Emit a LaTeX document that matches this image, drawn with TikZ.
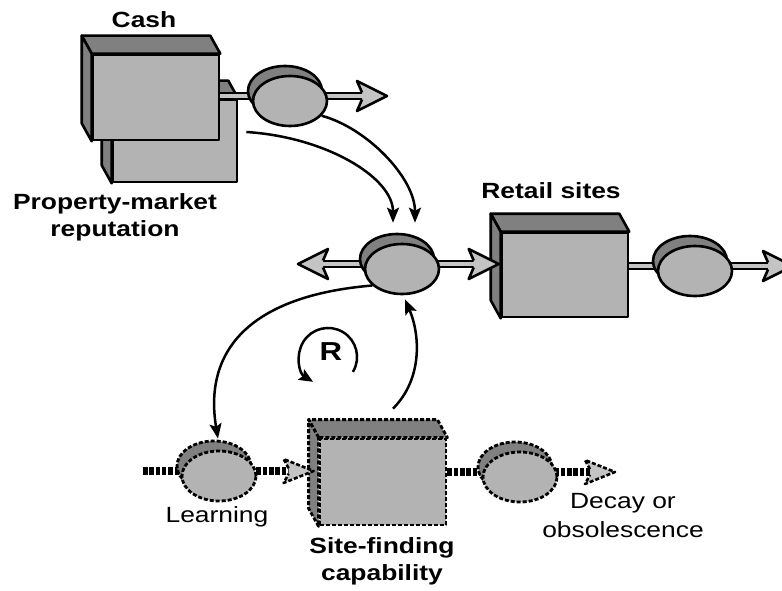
\documentclass[tikz,border=0pt]{standalone}
\usepackage{fontspec}
\setmainfont{Liberation Sans}[FakeStretch=1.2]
\usetikzlibrary{calc,arrows.meta,shapes.geometric}
\definecolor{facegray}{HTML}{B3B3B3}
\definecolor{sidegray}{HTML}{808080}
\definecolor{pipegray}{HTML}{C4C4C4}

% top and left faces of a 3-D stock box drawn from its front-face node
\newcommand\stockfaces[2]{%
  \path[sideface,#2] (#1.north west) -- ++(-10,-18) -- ($(#1.north east)+(-10,-18)$) -- (#1.north east) -- cycle;
  \path[sideface,#2] (#1.north west) -- ++(-10,-18) -- ($(#1.south west)+(-10,-18)$) -- (#1.south west) -- cycle;
}
% valve: rim behind, face in front, centred just below the pipe
\newcommand\valveat[3]{%
  \path[coinback,#3] ($(#2)+(-5,-5)$) ellipse [x radius=37, y radius=25];
  \node[coinfront,#3] (#1) at ($(#2)+(0,5)$) {};
}

\begin{document}
\begin{tikzpicture}[x=1pt,y=-1pt,
  outline/.style={line width=2.6pt, line join=round},
  front/.style={outline, draw, fill=facegray, rectangle, inner sep=0pt},
  sideface/.style={outline, draw, fill=sidegray},
  dashy/.style={line width=2.8pt, dash pattern=on 4pt off 2pt},
  coinfront/.style={ellipse, draw, outline, fill=facegray, minimum width=74pt, minimum height=50pt, inner sep=0pt},
  coinback/.style={outline, draw, fill=sidegray},
  pipe/.style={line width=2.2pt, double=pipegray, double distance=3.8pt},
  dpipe/.style={line width=7.5pt, dash pattern=on 4.5pt off 1.8pt},
  link/.style={line width=2.5pt, -{Stealth[length=15pt,width=12pt,inset=3pt]}},
  lbl/.style={font=\fontsize{22}{27}\selectfont\bfseries, align=center, inner sep=0pt},
  txt/.style={font=\fontsize{22}{29}\selectfont, align=center, inner sep=0pt},
  flowtip/.pic={
    \fill[pipegray] (0,0) -- (-30,-15) -- (-25,-3.5) -- (-25,3.5) -- (-30,15) -- cycle;
    \draw[outline] (-25,-3.5) -- (-30,-15) -- (0,0) -- (-30,15) -- (-25,3.5);
  },
]
\useasboundingbox (0,0) rectangle (782,591);

% pipe centre lines of the valves and free ends of the flows
\coordinate (v1p) at (290,96);
\coordinate (v2p) at (402,264);
\coordinate (v3p) at (695,266);
\coordinate (lp) at (219,471);
\coordinate (dp) at (520,472);
\coordinate (src) at (143,471);
\coordinate (t1) at (387,96);
\coordinate (lt) at (298,264);
\coordinate (t3) at (793,266);
\coordinate (t4) at (615,472);

% ---- stocks ----
\node[front, minimum width=124, minimum height=82] (pm) at (175,141) {};
\stockfaces{pm}{}
\node[front, minimum width=126, minimum height=85] (cash) at (156,97.5) {};
\stockfaces{cash}{}
\node[front, minimum width=126, minimum height=84] (retail) at (565,275) {};
\stockfaces{retail}{}
\node[front, dashy, minimum width=126, minimum height=86] (sf) at (383,482) {};
\stockfaces{sf}{dashy}

\coordinate (rt) at ($(retail.west |- v2p)+(-2,0)$);
\coordinate (lt2) at ($(sf.west |- lp)+(-5,0)$);

% ---- flows ----
\draw[pipe] (cash.east |- v1p) -- ($(t1)+(-25,0)$);
\draw[pipe] ($(lt)+(25,0)$) -- ($(rt)+(-25,0)$);
\draw[pipe] (retail.east |- v3p) -- ($(t3)+(-25,0)$);
\draw[dpipe] (src) -- ($(lt2)+(-25,0)$);
\draw[dpipe] (sf.east |- dp) -- ($(t4)+(-25,0)$);

\pic at (t1) {flowtip};
\pic[rotate=180] at (lt) {flowtip};
\pic at (rt) {flowtip};
\pic at (t3) {flowtip};
\pic[dashy, yscale=0.8] at (lt2) {flowtip};
\pic[dashy, yscale=0.8] at (t4) {flowtip};

% ---- valves ----
\valveat{v1}{v1p}{}
\valveat{v2}{v2p}{}
\valveat{v3}{v3p}{}
\valveat{learn}{lp}{dashy}
\valveat{decay}{dp}{dashy}

% ---- labels ----
\node[lbl] (cashlbl) at (144,20) {Cash};
\node[lbl] (pmlbl) at (115,217) {Property-market\\reputation};
\node[lbl] (rslbl) at (551,191) {Retail sites};
\node[txt] (learnlbl) at (217,517) {Learning};
\node[lbl] (sflbl) at (382,561) {Site-finding\\capability};
\node[txt] (decaylbl) at (623,516) {Decay or\\obsolescence};
\node[lbl, font=\fontsize{26}{30}\selectfont\bfseries] (R) at (331,352) {R};

% ---- causal links ----
\draw[link] ($(pm.east)+(8,-9)$) .. controls +(80,5) and +(0,-45) .. ($(v2.north)+(-9,-20)$);
\draw[link] (v1.-25) .. controls +(45,12) and +(0,-45) .. ($(v2.north)+(13,-20)$);
\draw[link] (v2.-151) .. controls +(-120,10) and +(-15,-90) .. ($(learn.north)+(-1,-11)$);
\draw[link] ($(sf.north)+(10,-29)$) .. controls +(30,-30) and +(15,35) .. ($(v2.south)+(3,4)$);
\draw[line width=2.5pt, -{Stealth[length=14pt,width=12pt,inset=2.5pt]}]
  ($(R)+(21.9,19.9)$) arc[start angle=31, end angle=-239, radius=29];
\end{tikzpicture}
\end{document}
